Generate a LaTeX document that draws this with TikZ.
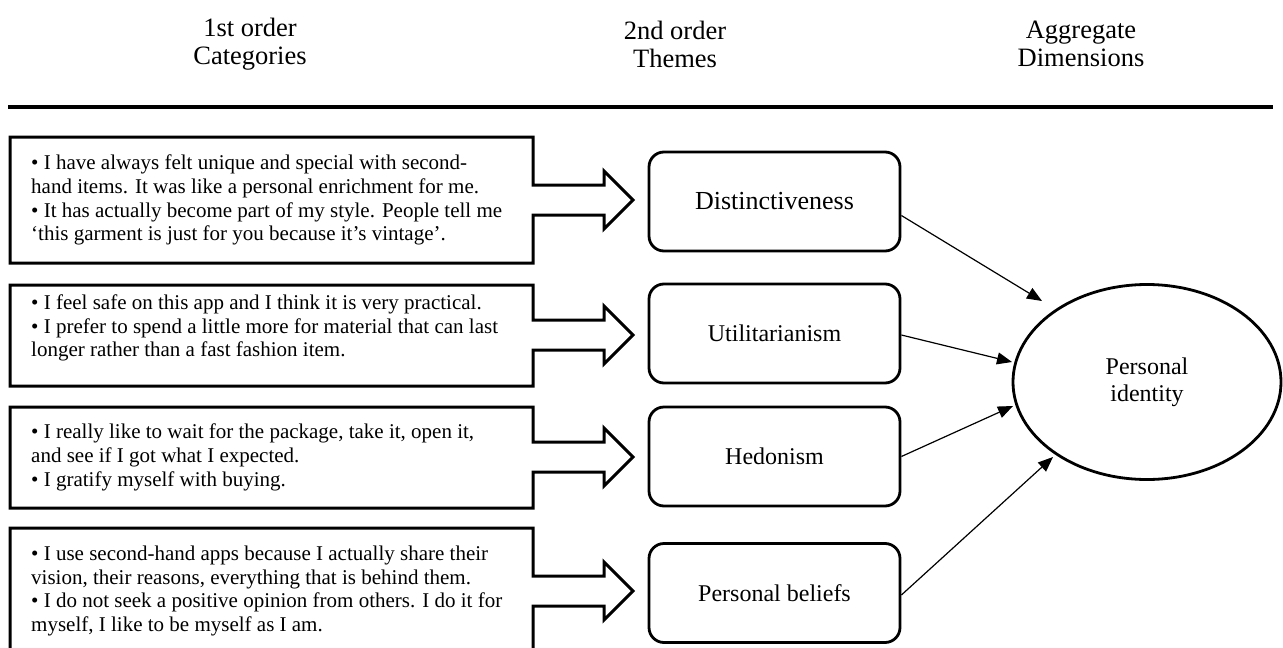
\documentclass[tikz,border=0pt]{standalone}
\usepackage{fontspec}
\setmainfont{Liberation Serif}
\usetikzlibrary{arrows.meta,shapes.geometric}
\newcommand\calloutshape[3]{%
  \draw[callout] (533,{#3-15}) -- (533,#1) -- (10,#1) -- (10,#2) -- (533,#2) -- (533,{#3+15})
    -- (604,{#3+15}) -- (604,{#3+29}) -- (633,#3) -- (604,{#3-29}) -- (604,{#3-15}) -- cycle;}
\begin{document}
\begin{tikzpicture}[x=1pt,y=-1pt,
  callout/.style={line width=3pt, line join=miter},
  quote/.style={anchor=west, align=left, inner sep=0pt, font=\fontsize{21}{23.8}\selectfont},
  theme/.style={draw, line width=2.8pt, rounded corners=15pt, minimum width=251pt, minimum height=99pt, font=\fontsize{24}{28}\selectfont, inner sep=0pt},
  dim/.style={draw, ellipse, line width=2.8pt, minimum width=268pt, minimum height=195pt, align=center, font=\fontsize{24}{27}\selectfont, inner sep=0pt},
  head/.style={align=center, font=\fontsize{26.5}{28}\selectfont, inner sep=0pt},
  link/.style={line width=1.2pt, -{Triangle[length=15pt,width=12pt]}},
  rule/.style={line width=3.2pt, dash pattern=on 15.6pt off 0.4pt},
]
\useasboundingbox (0,0) rectangle (1283,648);

% headers
\node[head] (h1) at (250,44) {1st order\\Categories};
\node[head] (h2) at (675,44) {2nd order\\Themes};
\node[head] (h3) at (1081,44) {Aggregate\\Dimensions};
\coordinate (hl) at (8,107);
\coordinate (hr) at (1273,107);
\draw[rule] (hl) -- (hr);

% callout boxes
\calloutshape{137}{263}{200}
\calloutshape{285}{386}{335}
\calloutshape{407}{508}{457}
\calloutshape{528}{652}{591}

\node[quote] (q1) at (31,200) {• I have always felt unique and special with second-\\
hand items. It was like a personal enrichment for me.\\
• It has actually become part of my style. People tell me\\
‘this garment is just for you because it’s vintage’.};
\node[quote] (q2) at (31,328) {• I feel safe on this app and I think it is very practical.\\
• I prefer to spend a little more for material that can last\\
longer rather than a fast fashion item.};
\node[quote] (q3) at (31,457.5) {• I really like to wait for the package, take it, open it,\\
and see if I got what I expected.\\
• I gratify myself with buying.};
\node[quote] (q4) at (31,591) {• I use second-hand apps because I actually share their\\
vision, their reasons, everything that is behind them.\\
• I do not seek a positive opinion from others. I do it for\\
myself, I like to be myself as I am.};

% themes
\node[theme, font=\fontsize{26}{28}\selectfont] (t1) at (774.5,201.5) {Distinctiveness};
\node[theme] (t2) at (774.5,333.5) {Utilitarianism};
\node[theme] (t3) at (774.5,456.5) {Hedonism};
\node[theme] (t4) at (774.5,593) {Personal beliefs};

% aggregate dimension
\node[dim] (pi) at (1147,382) {Personal\\identity};

% arrow tips
\coordinate (e1) at (1042,301);
\coordinate (e2) at (1012,362);
\coordinate (e3) at (1013,406);
\coordinate (e4) at (1053,457);

\draw[link] ([yshift=-14pt]t1.east) -- (e1);
\draw[link] ([yshift=-1.5pt]t2.east) -- (e2);
\draw[link] (t3.east) -- (e3);
\draw[link] ([yshift=-2pt]t4.east) -- (e4);
\end{tikzpicture}
\end{document}
